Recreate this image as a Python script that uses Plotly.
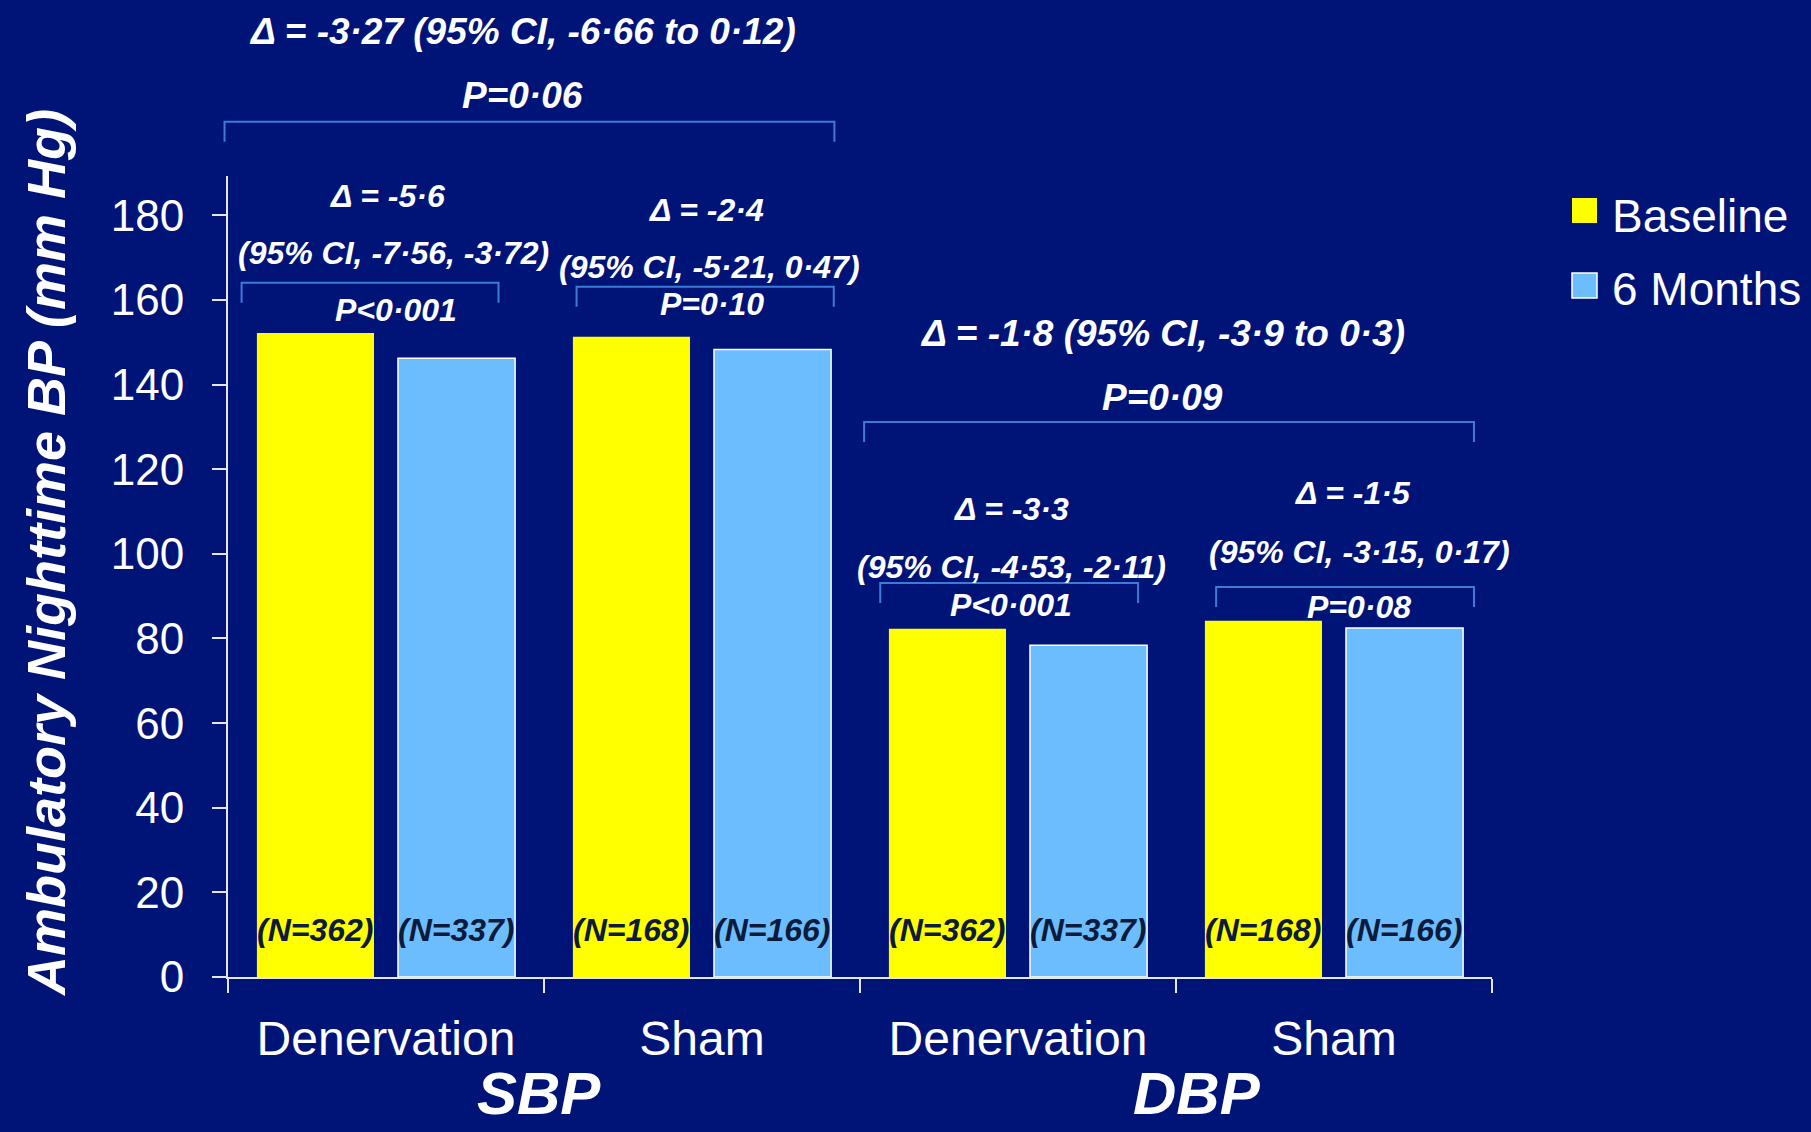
import plotly.graph_objects as go

# ---- data -------------------------------------------------------------
categories = ["Denervation", "Sham", "Denervation", "Sham"]
measure_labels = ["SBP", "DBP"]
baseline_bp = [152.2, 151.3, 82.3, 84.2]
six_month_bp = [146.2, 148.3, 78.4, 82.5]
baseline_n = ["(N=362)", "(N=168)", "(N=362)", "(N=168)"]
six_month_n = ["(N=337)", "(N=166)", "(N=337)", "(N=166)"]
y_tick_values = [0, 20, 40, 60, 80, 100, 120, 140, 160, 180]

within_delta = ["Δ = -5·6", "Δ = -2·4", "Δ = -3·3", "Δ = -1·5"]
within_ci = ["(95% CI, -7·56, -3·72)", "(95% CI, -5·21, 0·47)",
             "(95% CI, -4·53, -2·11)", "(95% CI, -3·15, 0·17)"]
within_p = ["P<0·001", "P=0·10", "P<0·001", "P=0·08"]
between_delta = ["Δ = -3·27 (95% CI, -6·66 to 0·12)", "Δ = -1·8 (95% CI, -3·9 to 0·3)"]
between_p = ["P=0·06", "P=0·09"]
legend_names = ["Baseline", "6 Months"]

# ---- style / layout constants ----------------------------------------
BG = "#001478"
YELLOW = "#FFFF00"
SKY = "#6BBDFE"
BRACKET = "#3D7BD6"
INK = "#0C1A3C"
AXIS = "#E6E6E6"
FONT = "Liberation Sans, Arial, sans-serif"

W, H = 1811, 1132
M_L, M_R, M_T, M_B = 228, 319, 176, 155
PLOT_W = W - M_L - M_R
PLOT_H = H - M_T - M_B
BARGAP, GROUPGAP = 0.107, 0.17
Y_MAX = 189.3

x_pos = list(range(len(categories)))
boundaries = [x - 0.5 for x in x_pos] + [x_pos[-1] + 0.5]


def paper_y(pixel_y):
    return (H - M_B - pixel_y) / PLOT_H


def paper_x_px(pixel_x):
    return (pixel_x - M_L) / PLOT_W


def paper_x(data_x):
    return (data_x + 0.5) / len(categories)


def bi(text):
    return f"<b><i>{text}</i></b>"


fig = go.Figure()
fig.add_bar(x=x_pos, y=baseline_bp, name=legend_names[0],
            marker=dict(color=YELLOW, line=dict(width=0)))
fig.add_bar(x=x_pos, y=six_month_bp, name=legend_names[1],
            marker=dict(color=SKY, line=dict(color="white", width=1.5)))

# sample sizes written inside the bars
half = (1 - BARGAP) / 4
for i, (nb, ns) in enumerate(zip(baseline_n, six_month_n)):
    for xv, t in ((i - half, nb), (i + half, ns)):
        fig.add_annotation(x=xv, y=11, xref="x", yref="y", text=bi(t),
                           showarrow=False,
                           font=dict(size=32, color=INK, family=FONT))


def bracket(x0, x1, y_px, drop=20):
    a, b = paper_x(x0), paper_x(x1)
    top, bot = paper_y(y_px), paper_y(y_px + drop)
    fig.add_shape(type="path", xref="paper", yref="paper",
                  path=f"M {a},{bot} L {a},{top} L {b},{top} L {b},{bot}",
                  line=dict(color=BRACKET, width=2))


def label(x, y_px, text, size):
    fig.add_annotation(x=x, y=paper_y(y_px), xref="x", yref="paper",
                       text=bi(text), showarrow=False, xanchor="center",
                       yanchor="middle",
                       font=dict(size=size, color="white", family=FONT))


# within-group comparisons (baseline vs 6 months)
within_x = [[0.006, 0.024, 0.033], [1.014, 1.023, 1.033],
            [1.979, 1.979, 1.979], [3.061, 3.080, 3.080]]
within_y = [[196, 253, 310], [210, 267, 304], [509, 567, 605], [493, 552, 607]]
within_span = [(-0.457, 0.356, 282.7), (0.603, 1.417, 286.7),
               (1.564, 2.380, 583), (2.627, 3.443, 587)]
for i in range(4):
    xs, ys = within_x[i], within_y[i]
    label(xs[0], ys[0], within_delta[i], 32)
    label(xs[1], ys[1], within_ci[i], 32)
    label(xs[2], ys[2], within_p[i], 32)
    bracket(*within_span[i])

# between-group comparisons
between_x = [0.432, 2.458]
between_y = [(31, 96), (333, 397)]
between_span = [(-0.511, 1.419, 121.7), (1.513, 3.443, 422)]
for i in range(2):
    label(between_x[i], between_y[i][0], between_delta[i], 37)
    label(between_x[i], between_y[i][1], between_p[i], 37)
    bracket(*between_span[i])

# measure group labels under the axis
for xv, t in zip([0.484, 2.565], measure_labels):
    label(xv, 1093, t, 60)

# y-axis title
fig.add_annotation(x=paper_x_px(46), y=paper_y(553), xref="paper", yref="paper",
                   text=bi("Ambulatory Nighttime BP (mm Hg)"), textangle=-90,
                   showarrow=False, xanchor="center", yanchor="middle",
                   font=dict(size=54, color="white", family=FONT))

# legend
legend_rows = [(YELLOW, 0, 198, 216), (SKY, 1.5, 273, 289)]
for (color, lw, top_px, text_px), name in zip(legend_rows, legend_names):
    fig.add_shape(type="rect", xref="paper", yref="paper",
                  x0=paper_x_px(1572), x1=paper_x_px(1597),
                  y0=paper_y(top_px + 25), y1=paper_y(top_px),
                  fillcolor=color, line=dict(color="white", width=lw))
    fig.add_annotation(x=paper_x_px(1610), y=paper_y(text_px), xref="paper",
                       yref="paper", text=name, showarrow=False,
                       xanchor="left", yanchor="middle",
                       font=dict(size=46, color="white", family=FONT))

fig.update_layout(
    width=W, height=H,
    margin=dict(l=M_L, r=M_R, t=M_T, b=M_B, pad=0),
    paper_bgcolor=BG, plot_bgcolor=BG,
    barmode="group", bargap=BARGAP, bargroupgap=GROUPGAP,
    font=dict(family=FONT, color="white"),
    showlegend=False,
)
fig.update_xaxes(
    range=[-0.5, len(categories) - 0.5], tickmode="array", tickvals=x_pos,
    ticktext=categories, ticks="", showgrid=False, zeroline=False,
    showline=True, linecolor=AXIS, linewidth=2,
    tickfont=dict(size=48, color="white", family=FONT), ticklabelstandoff=18,
    minor=dict(tickmode="array", tickvals=boundaries, ticks="outside",
               ticklen=14, tickwidth=2, tickcolor=AXIS, showgrid=False),
)
fig.update_yaxes(
    range=[0, Y_MAX], tickmode="array", tickvals=y_tick_values,
    ticks="outside", ticklen=14, tickwidth=2, tickcolor=AXIS,
    showline=True, linecolor=AXIS, linewidth=2, showgrid=False, zeroline=False,
    tickfont=dict(size=44, color="white", family=FONT), ticklabelstandoff=19,
)

fig.write_html("out.html")
